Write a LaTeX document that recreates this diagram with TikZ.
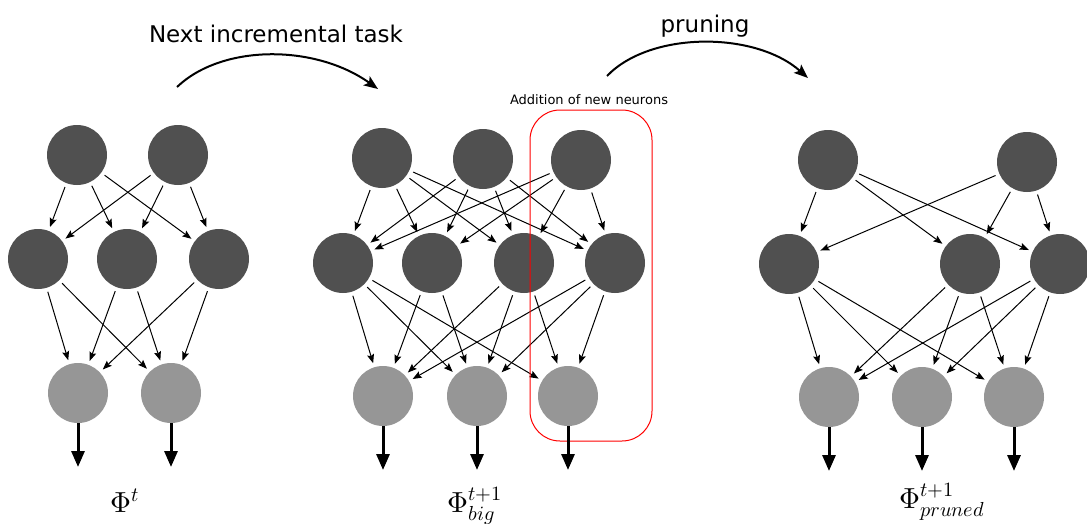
\documentclass[tikz,border=0pt]{standalone}
\usepackage{fontspec}
\usepackage{unicode-math}
\newfontfamily\labelfont{DejaVu Sans}
\usetikzlibrary{arrows.meta}

\definecolor{hiddenfill}{RGB}{80,80,80}
\definecolor{outfill}{RGB}{150,150,150}

\tikzset{
  neuron/.style={circle, minimum size=60pt, inner sep=0pt, draw=none},
  hid/.style={neuron, fill=hiddenfill},
  outn/.style={neuron, fill=outfill},
  link/.style={line width=1pt, -{Stealth[length=9pt,width=7pt,inset=1.5pt]},
               shorten <=4pt, shorten >=4pt},
  outarrow/.style={line width=3pt, -{Triangle[length=16pt,width=13pt]}},
  taskarrow/.style={line width=2pt, -{Stealth[length=14pt,width=11pt,inset=3pt]}},
  caption/.style={font=\labelfont\fontsize{23}{26}\selectfont, anchor=base, inner sep=0pt},
  netname/.style={font=\fontsize{29}{32}\selectfont, anchor=base west, inner sep=0pt}
}

\begin{document}
\begin{tikzpicture}[x=1pt, y=-1pt]
\useasboundingbox (0,0) rectangle (1087,523);

% ---- network Phi^t ----
\node[hid] (L-t1) at (77,155) {};
\node[hid] (L-t2) at (178,155) {};
\node[hid] (L-m1) at (38,259) {};
\node[hid] (L-m2) at (127,259) {};
\node[hid] (L-m3) at (219,259) {};
\node[outn] (L-o1) at (78,393) {};
\node[outn] (L-o2) at (171,393) {};
\foreach \a in {t1,t2}{\foreach \b in {m1,m2,m3}{\draw[link] (L-\a) -- (L-\b);}}
\foreach \a in {m1,m2,m3}{\foreach \b in {o1,o2}{\draw[link] (L-\a) -- (L-\b);}}
\coordinate (L-y1) at (78,467);
\coordinate (L-y2) at (171,467);
\draw[outarrow] (L-o1.south) -- (L-y1);
\draw[outarrow] (L-o2.south) -- (L-y2);
\node[netname] (L-name) at (110,512) {$\Phi^{t}$};

% ---- enlarged network Phi^{t+1}_{big} ----
\node[hid] (M-t1) at (382,158) {};
\node[hid] (M-t2) at (483,159) {};
\node[hid] (M-t3) at (581,160) {};
\node[hid] (M-m1) at (343,263) {};
\node[hid] (M-m2) at (432,263) {};
\node[hid] (M-m3) at (524,263) {};
\node[hid] (M-m4) at (615,263) {};
\node[outn] (M-o1) at (383,396) {};
\node[outn] (M-o2) at (477,396) {};
\node[outn] (M-o3) at (568,396) {};
\foreach \a in {t1,t2,t3}{\foreach \b in {m1,m2,m3,m4}{\draw[link] (M-\a) -- (M-\b);}}
\foreach \a/\b in {m1/o1,m1/o2,m1/o3,m2/o1,m2/o2,m3/o1,m3/o2,m3/o3,m4/o1,m4/o2,m4/o3}
  {\draw[link] (M-\a) -- (M-\b);}
% group of added neurons
\draw[red, line width=1pt, rounded corners=30pt] (530,110) rectangle (652,441);
\node[font=\labelfont\fontsize{13}{15}\selectfont, anchor=base, inner sep=0pt] (M-note) at (589,104) {Addition of new neurons};
\coordinate (M-y1) at (383,470);
\coordinate (M-y2) at (477,470);
\coordinate (M-y3) at (568,470);
\draw[outarrow] (M-o1.south) -- (M-y1);
\draw[outarrow] (M-o2.south) -- (M-y2);
\draw[outarrow] (M-o3.south) -- (M-y3);
\node[netname] (M-name) at (447,512) {$\Phi^{t+1}_{big}$};

% ---- pruned network Phi^{t+1}_{pruned} ----
\node[hid] (R-t1) at (828,160) {};
\node[hid] (R-t2) at (1027,162) {};
\node[hid] (R-m1) at (789,264) {};
\node[hid] (R-m2) at (970,264) {};
\node[hid] (R-m3) at (1060,264) {};
\node[outn] (R-o1) at (829,397) {};
\node[outn] (R-o2) at (922,397) {};
\node[outn] (R-o3) at (1014,397) {};
\foreach \a in {t1,t2}{\foreach \b in {m1,m2,m3}{\draw[link] (R-\a) -- (R-\b);}}
\foreach \a in {m1,m2,m3}{\foreach \b in {o1,o2,o3}{\draw[link] (R-\a) -- (R-\b);}}
\coordinate (R-y1) at (829,471);
\coordinate (R-y2) at (922,471);
\coordinate (R-y3) at (1014,471);
\draw[outarrow] (R-o1.south) -- (R-y1);
\draw[outarrow] (R-o2.south) -- (R-y2);
\draw[outarrow] (R-o3.south) -- (R-y3);
\node[netname] (R-name) at (899,508) {$\Phi^{t+1}_{pruned}$};

% ---- transitions ----
\coordinate (A1-s) at (177,87);
\coordinate (A1-e) at (378,89);
\draw[taskarrow] (A1-s) .. controls (222,44) and (315,44) .. (A1-e);
\node[caption] (A1-text) at (276,42) {Next incremental task};

\coordinate (A2-s) at (607,76);
\coordinate (A2-e) at (808,78);
\draw[taskarrow] (A2-s) .. controls (650,31) and (755,31) .. (A2-e);
\node[caption] (A2-text) at (705,32) {pruning};
\end{tikzpicture}
\end{document}
